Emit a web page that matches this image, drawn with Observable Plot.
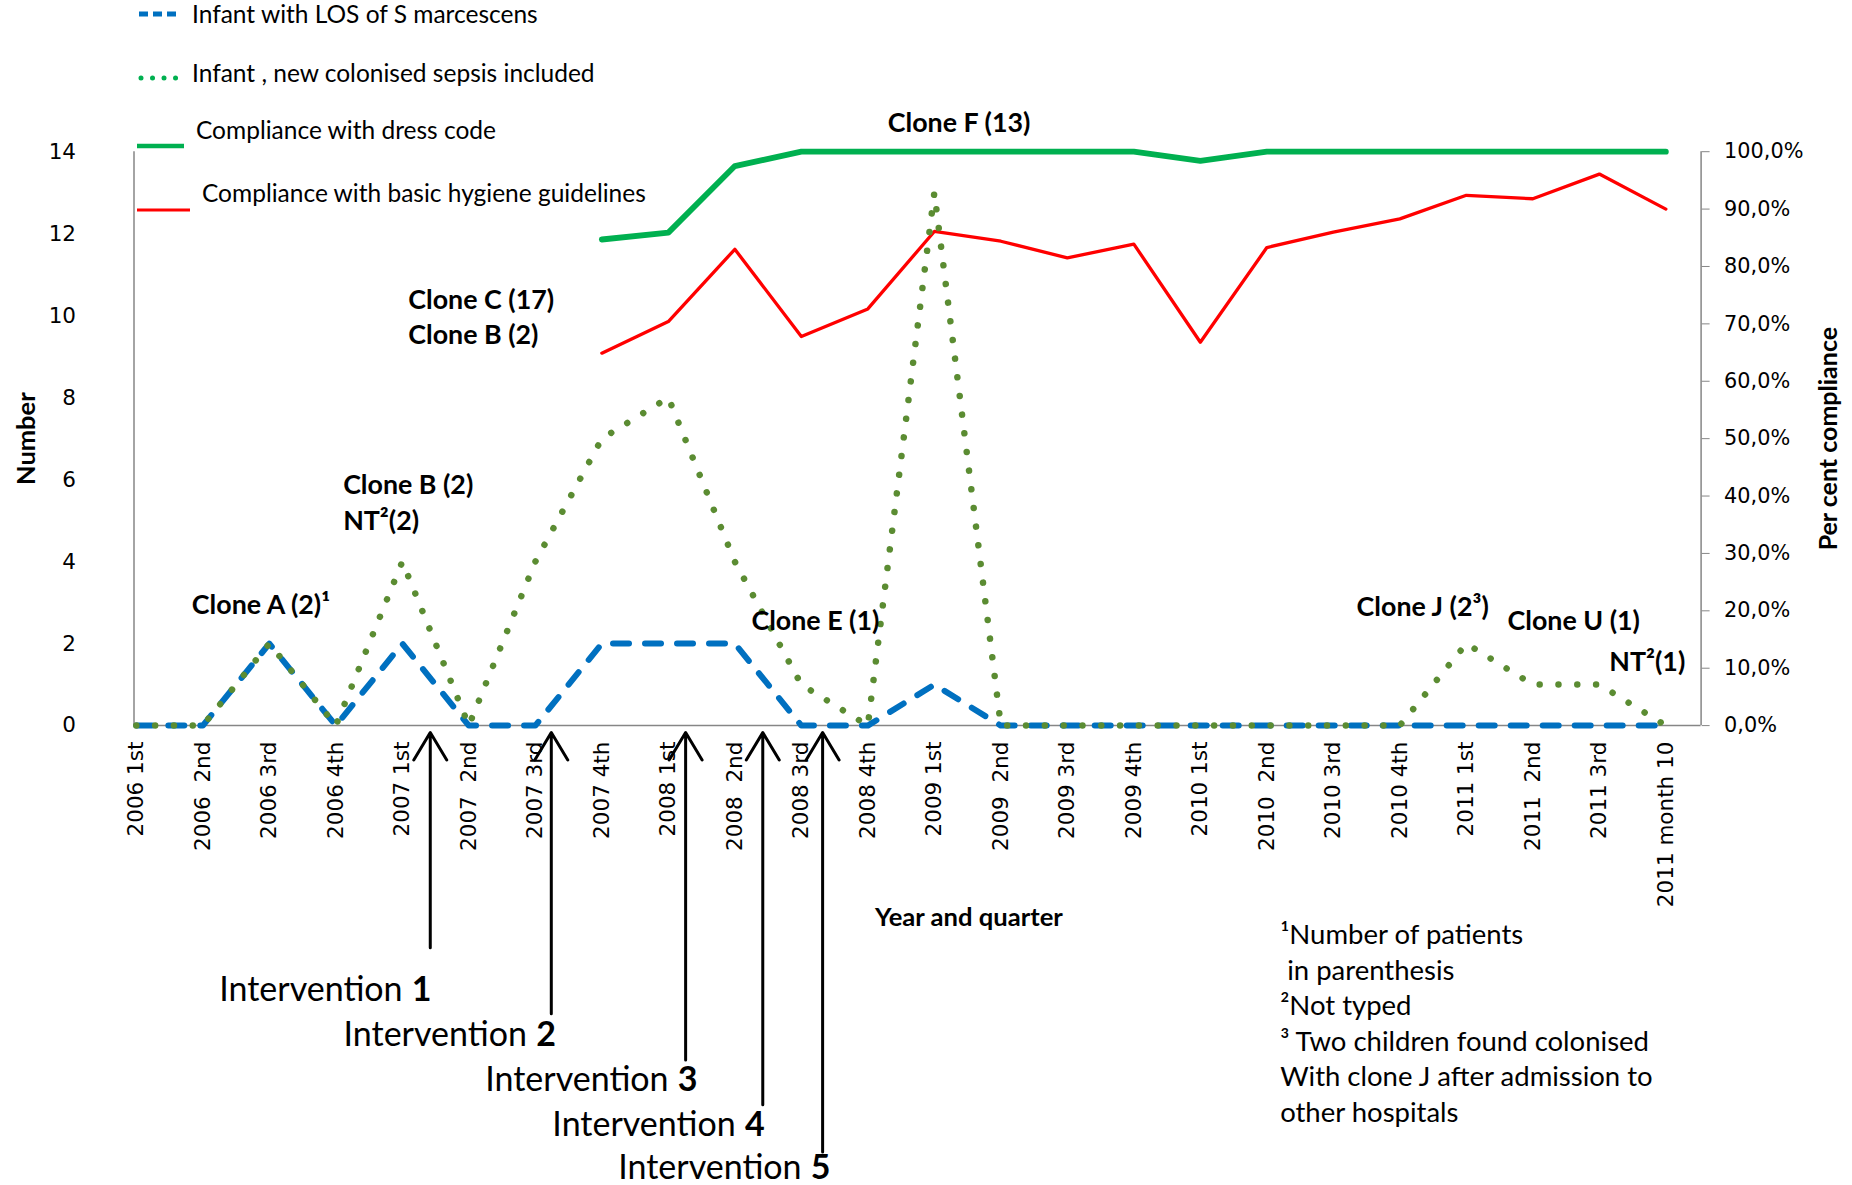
<!DOCTYPE html>
<html><head><meta charset="utf-8">
<script src="https://cdn.jsdelivr.net/npm/d3@7"></script>
<script src="https://cdn.jsdelivr.net/npm/@observablehq/plot@0.6"></script>
<style>
body{margin:0;background:#fff;}
#wrap{position:relative;width:1852px;height:1185px;overflow:hidden;}
#wrap svg text{white-space:pre;}
.leg{position:absolute;font-family:Lato,sans-serif;font-size:24.5px;color:#000;white-space:pre;line-height:1;}
.sw{position:absolute;overflow:visible;}
</style></head><body><div id="wrap"></div>
<script>
// ---- data ----
const categories = ["2006 1st","2006  2nd","2006 3rd","2006 4th","2007 1st","2007  2nd","2007 3rd","2007 4th","2008 1st","2008  2nd","2008 3rd","2008 4th","2009 1st","2009  2nd","2009 3rd","2009 4th","2010 1st","2010  2nd","2010 3rd","2010 4th","2011 1st","2011  2nd","2011 3rd","2011 month 10"];
const losInfants = [0,0,2,0,2,0,0,2,2,2,0,0,1,0,0,0,0,0,0,0,0,0,0,0];
const colonisedIncluded = [0,0,2,0,4,0,4,7,8,4,1,0,13,0,0,0,0,0,0,0,2,1,1,0];
const dressCode = [null,null,null,null,null,null,null,84.7,85.9,97.5,100,100,100,100,100,100,98.4,100,100,100,100,100,100,100];
const hygiene = [null,null,null,null,null,null,null,64.9,70.4,83.0,67.8,72.6,86.1,84.4,81.5,83.9,66.8,83.3,86.0,88.3,92.4,91.8,96.1,90.0];
const leftTicks = [0,2,4,6,8,10,12,14];
const pctTicks = [0,10,20,30,40,50,60,70,80,90,100];
const seriesNames = ["Infant with LOS of S marcescens","Infant , new colonised sepsis included","Compliance with dress code","Compliance with basic hygiene guidelines"];
const annotations = [
  {label:"Clone A (2)¹", x:0.835, y:2.94},
  {label:"Clone B (2)", x:3.11, y:5.85},
  {label:"NT²(2)", x:3.11, y:4.99},
  {label:"Clone C (17)", x:4.09, y:10.37},
  {label:"Clone B (2)", x:4.09, y:9.51},
  {label:"Clone F (13)", x:11.30, y:14.70},
  {label:"Clone E (1)", x:9.25, y:2.54},
  {label:"Clone J (2³)", x:18.35, y:2.88},
  {label:"Clone U (1)", x:20.62, y:2.54},
  {label:"NT²(1)", x:22.15, y:1.53}
];
const interventions = [
  {n:1, x:4.42, yBottom:-5.42, tx:4.44, ty:-6.46},
  {n:2, x:6.24, yBottom:-7.03, tx:6.31, ty:-7.55},
  {n:3, x:8.26, yBottom:-8.16, tx:8.44, ty:-8.65},
  {n:4, x:9.42, yBottom:-9.25, tx:9.45, ty:-9.74},
  {n:5, x:10.32, yBottom:-10.4, tx:10.44, ty:-10.80}
];
const footnote = {x:17.2, y:-7.22, text:"¹Number of patients\n in parenthesis\n²Not typed\n³ Two children found colonised\nWith clone J after admission to\nother hospitals"};
const xLabel = {x:12.52, y:-4.70, text:"Year and quarter"};

// ---- build ----
const k = 14/100; // percent -> left-axis units
const rows = categories.map((c,i)=>({i, cat:c, los:losInfants[i], col:colonisedIncluded[i], dress:dressCode[i], hyg:hygiene[i]}));
const fmtPct = p => (Math.round(p*10)/10).toFixed(1).replace(".", ",") + "%";
const xDom = [-0.035, 23.53];
const gray = "#868686";
const calibri = "Lato, 'Open Sans', sans-serif";

const chart = Plot.plot({
  width:1852, height:1185,
  marginLeft:133.5, marginRight:151.4, marginTop:151.2, marginBottom:459.9,
  style:{fontFamily:"'DejaVu Sans', sans-serif", fontSize:"21.5px", background:"white", overflow:"visible", color:"#000"},
  x:{type:"linear", domain:xDom},
  y:{type:"linear", domain:[0,14]},
  marks:[
    Plot.ruleX([xDom[0]], {stroke:gray, strokeWidth:1.5}),
    Plot.ruleX([xDom[1]], {stroke:gray, strokeWidth:1.5}),
    Plot.ruleY([0], {stroke:gray, strokeWidth:1.5}),
    Plot.axisX(d3.range(categories.length), {tickFormat:i=>categories[i], tickRotate:-90, tickSize:0, tickPadding:16, label:null}),
    Plot.axisY(leftTicks, {anchor:"left", tickSize:0, tickPadding:58, label:null}),
    Plot.axisY(pctTicks.map(p=>p*k), {anchor:"right", tickSize:8, tickPadding:15, stroke:gray, fontSize:20.8, tickFormat:v=>fmtPct(v/k), label:null}),
    Plot.line(rows.filter(d=>d.dress!=null), {x:"i", y:d=>d.dress*k, stroke:"#00B050", strokeWidth:5.8, strokeLinejoin:"round"}),
    Plot.line(rows.filter(d=>d.hyg!=null), {x:"i", y:d=>d.hyg*k, stroke:"#FF0000", strokeWidth:3.3, strokeLinejoin:"round"}),
    Plot.line(rows, {x:"i", y:"los", stroke:"#0070C0", strokeWidth:6, strokeDasharray:"16,16", strokeLinecap:"round", strokeLinejoin:"round"}),
    Plot.line(rows, {x:"i", y:"col", stroke:"#5B8C32", strokeWidth:6.5, strokeDasharray:"0.01,18.8", strokeLinecap:"round"}),
    Plot.text(annotations, {x:"x", y:"y", text:"label", textAnchor:"start", fontWeight:"bold", fontFamily:calibri, fontSize:26.8, fill:"#000"}),
    Plot.arrow(interventions, {x1:"x", x2:"x", y1:"yBottom", y2:()=>-0.17, stroke:"#000", strokeWidth:3, headLength:16, headAngle:62}),
    Plot.text(interventions, {x:"tx", y:"ty", text:d=>String(d.n), textAnchor:"end", fontWeight:"bold", fontFamily:calibri, fontSize:34, fill:"#000"}),
    Plot.text(interventions, {x:"tx", y:"ty", text:()=>"Intervention", textAnchor:"end", dx:-29, fontFamily:calibri, fontSize:34, fill:"#000"}),
    Plot.text([footnote], {x:"x", y:"y", text:"text", textAnchor:"start", lineAnchor:"middle", lineHeight:1.29, fontFamily:calibri, fontSize:27.5, fill:"#000"}),
    Plot.text([xLabel], {x:"x", y:"y", text:"text", fontWeight:"bold", fontFamily:calibri, fontSize:25.6, fill:"#000"}),
    Plot.text(["Number"], {frameAnchor:"left", textAnchor:"middle", dx:-107.5, rotate:-90, fontWeight:"bold", fontFamily:calibri, fontSize:25.5, fill:"#000"}),
    Plot.text(["Per cent compliance"], {frameAnchor:"right", textAnchor:"middle", dx:127.5, rotate:-90, fontWeight:"bold", fontFamily:calibri, fontSize:25, fill:"#000"})
  ]
});
chart.style.position = "absolute";
chart.style.left = "0px";
chart.style.top = "0px";
const wrap = document.getElementById("wrap");
wrap.appendChild(chart);

// ---- legend (HTML overlay) ----
const legendItems = [
  {name:seriesNames[0], sw:`<line x1="2" y1="6" x2="40" y2="6" stroke="#0070C0" stroke-width="5" stroke-dasharray="9,5"/>`, swLeft:137, swTop:8, tLeft:192, tTop:2},
  {name:seriesNames[1], sw:`<line x1="4" y1="6" x2="40" y2="6" stroke="#00B050" stroke-width="5" stroke-linecap="round" stroke-dasharray="0.01,11.5"/>`, swLeft:137, swTop:72, tLeft:192, tTop:61},
  {name:seriesNames[2], sw:`<line x1="0" y1="6" x2="47" y2="6" stroke="#00B050" stroke-width="4.5"/>`, swLeft:137, swTop:140, tLeft:196, tTop:118},
  {name:seriesNames[3], sw:`<line x1="0" y1="6" x2="53" y2="6" stroke="#FF0000" stroke-width="3"/>`, swLeft:137, swTop:204, tLeft:202, tTop:181}
];
for (const it of legendItems) {
  const s = document.createElementNS("http://www.w3.org/2000/svg","svg");
  s.setAttribute("width","60"); s.setAttribute("height","12");
  s.setAttribute("class","sw");
  s.style.left = it.swLeft+"px"; s.style.top = it.swTop+"px";
  s.innerHTML = it.sw;
  wrap.appendChild(s);
  const t = document.createElement("div");
  t.className = "leg";
  t.style.left = it.tLeft+"px"; t.style.top = it.tTop+"px";
  t.textContent = it.name;
  wrap.appendChild(t);
}
</script></body></html>
